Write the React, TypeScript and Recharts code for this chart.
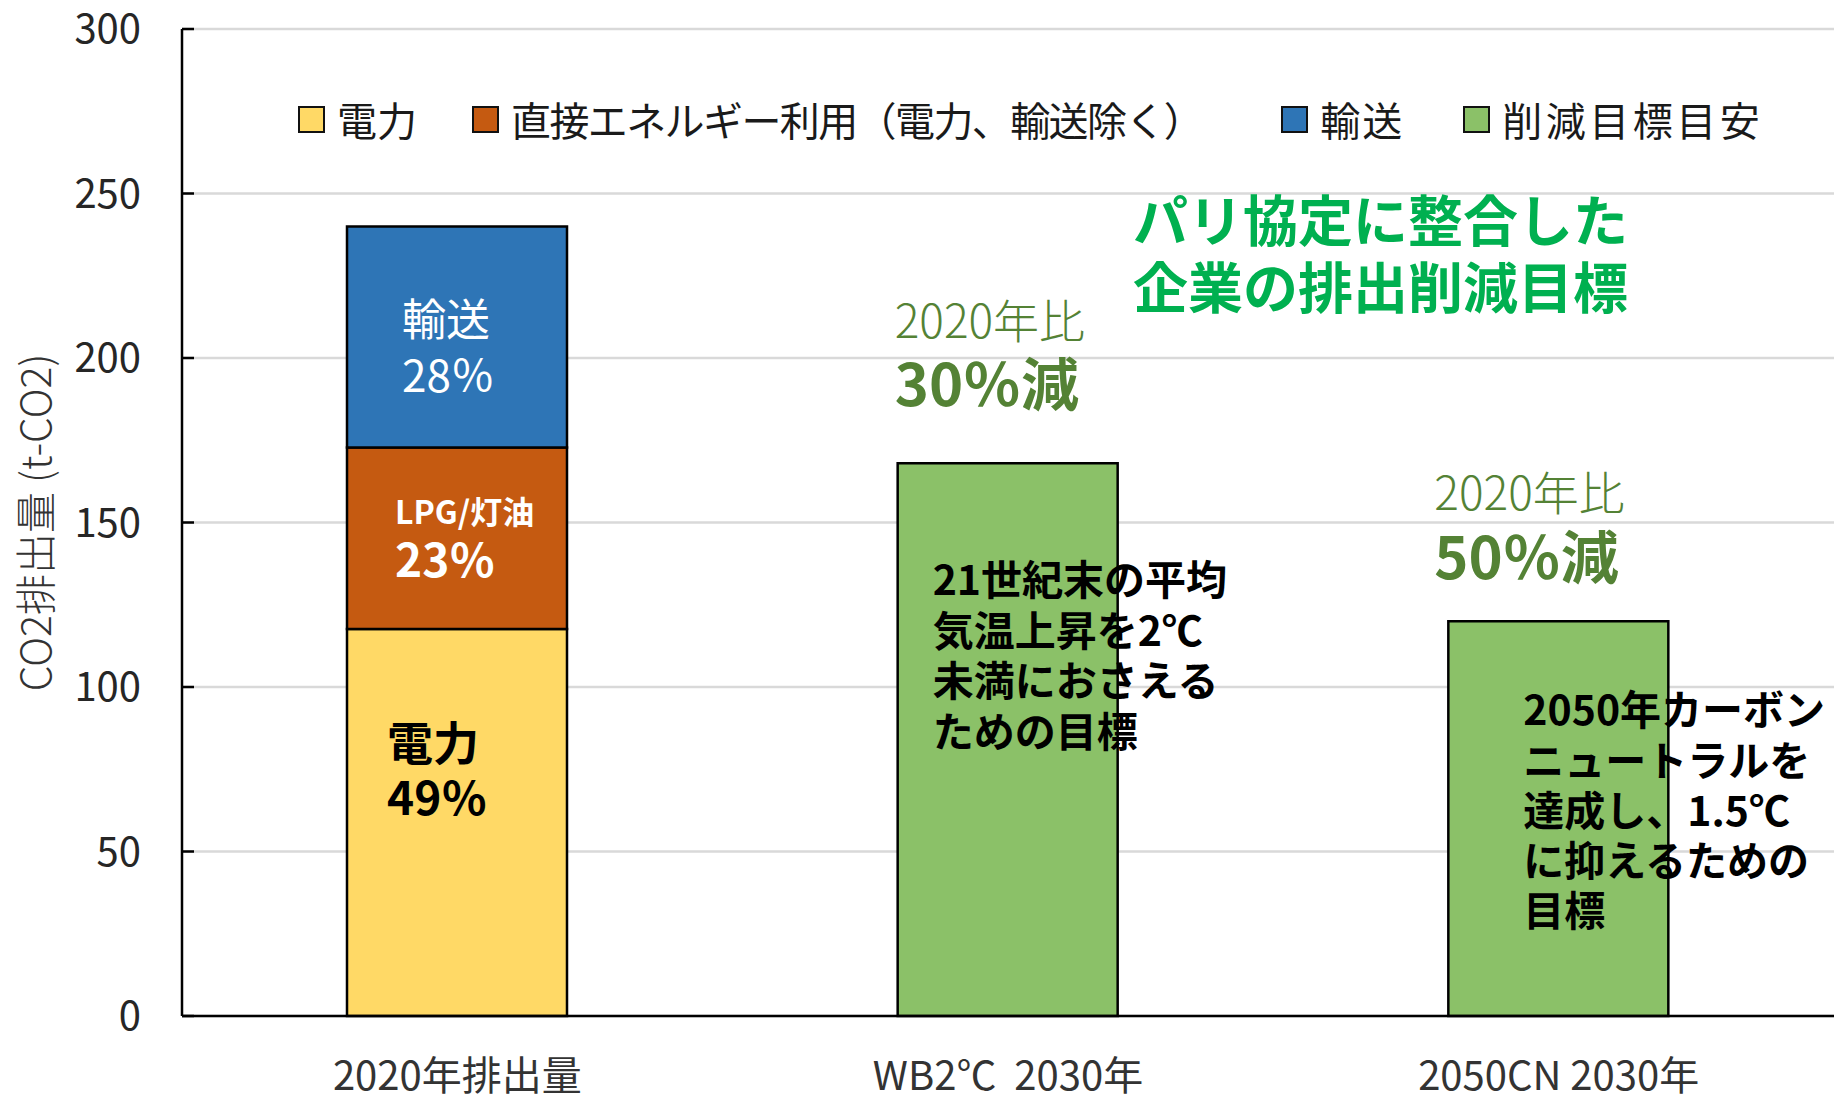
import {
  Bar,
  BarChart,
  CartesianGrid,
  Customized,
  LabelList,
  Legend,
  XAxis,
  YAxis,
} from "recharts";

const FONT = "'Noto Sans CJK JP', 'Noto Sans', sans-serif";

const categories = ["2020年排出量", "WB2℃  2030年", "2050CN 2030年"];

// t-CO2
const electricity = [117.6, null, null];
const directEnergy = [55.2, null, null];
const transport = [67.2, null, null];
const target = [null, 168, 120];

const yTicks = [0, 50, 100, 150, 200, 250, 300];

const seriesNames = ["電力", "直接エネルギー利用（電力、輸送除く）", "輸送", "削減目標目安"];
const seriesColors = ["#FFD966", "#C55A11", "#2E75B6", "#8BC168"];

const titleLines = ["パリ協定に整合した", "企業の排出削減目標"];
const ratioText = ["", "2020年比", "2020年比"];
const cutText = ["", "30％減", "50％減"];
const targetNotes = [
  [],
  ["21世紀末の平均", "気温上昇を2℃", "未満におさえる", "ための目標"],
  ["2050年カーボン", "ニュートラルを", "達成し、1.5℃", "に抑えるための", "目標"],
];

const data = categories.map((name, i) => ({
  name,
  electricity: electricity[i],
  directEnergy: directEnergy[i],
  transport: transport[i],
  target: target[i],
}));

type Line = { t: string; dy: number; size: number; weight: number };

function segmentLabel(lines: Line[], dx: number, fill: string) {
  return (props: any) => {
    const { x, y, height } = props;
    if (!height) return null;
    return (
      <g>
        {lines.map((l) => (
          <text
            key={l.t}
            x={x + dx}
            y={y + l.dy}
            fill={fill}
            fontSize={l.size}
            fontWeight={l.weight}
            fontFamily={FONT}
            dominantBaseline="central"
          >
            {l.t}
          </text>
        ))}
      </g>
    );
  };
}

// per-bar offsets of the notes around the target bars
const noteLayout = [
  null,
  { headDx: -3, ratioDy: -145, cutDy: -82, bodyDx: 35, bodyDy: 114, step: 50.5 },
  { headDx: -14, ratioDy: -131, cutDy: -67, bodyDx: 75, bodyDy: 86, step: 50.3 },
];

function TargetNote(props: any) {
  const { x, y, height, value } = props;
  const v = Array.isArray(value) ? value[1] - value[0] : value;
  const index = target.indexOf(v);
  const lay = noteLayout[index];
  if (!lay || !height) return null;
  return (
    <g fontFamily={FONT}>
      <text x={x + lay.headDx} y={y + lay.ratioDy} fill="#548235" fontSize={46} fontWeight={300} dominantBaseline="central">
        {ratioText[index]}
      </text>
      <text x={x + lay.headDx} y={y + lay.cutDy} fill="#548235" fontSize={58} fontWeight={700} dominantBaseline="central">
        {cutText[index]}
      </text>
      {targetNotes[index].map((t, k) => (
        <text
          key={t}
          x={x + lay.bodyDx}
          y={y + lay.bodyDy + k * lay.step}
          fill="#000"
          fontSize={41}
          fontWeight={700}
          dominantBaseline="central"
        >
          {t}
        </text>
      ))}
    </g>
  );
}

function Title() {
  return (
    <g fontFamily={FONT}>
      {titleLines.map((t, k) => (
        <text key={t} x={1133} y={217 + k * 67} fill="#00B050" fontSize={55} fontWeight={700} dominantBaseline="central">
          {t}
        </text>
      ))}
    </g>
  );
}

const legendGaps = [0, 55, 79, 59];
const legendSpacing = [0, -1.6, 2, 3.5];

function LegendRow() {
  return (
    <div style={{ display: "flex", alignItems: "center", fontFamily: FONT, fontSize: 40, lineHeight: "48px", color: "#1a1a1a", whiteSpace: "nowrap" }}>
      {seriesNames.map((name, i) => (
        <div key={name} style={{ display: "flex", alignItems: "center", marginLeft: legendGaps[i] }}>
          <span
            style={{
              display: "inline-block",
              width: 23,
              height: 23,
              background: seriesColors[i],
              border: "2.5px solid #111",
              marginRight: 12,
            }}
          />
          <span style={{ letterSpacing: legendSpacing[i] }}>{name}</span>
        </div>
      ))}
    </div>
  );
}

function AxisTitle(props: any) {
  const { viewBox } = props;
  const cx = 33;
  const cy = viewBox.y + viewBox.height / 2;
  return (
    <text
      x={cx}
      y={cy}
      transform={`rotate(-90 ${cx} ${cy})`}
      textAnchor="middle"
      dominantBaseline="central"
      fill="#333"
      fontSize={41}
      fontWeight={300}
      fontFamily={FONT}
    >
      CO2排出量 (t-CO2)
    </text>
  );
}

export default function App() {
  return (
    <div style={{ position: "absolute", left: 0, top: 0, background: "#fff" }}>
      <BarChart width={1837} height={1098} data={data} margin={{ top: 29, right: 3, bottom: 0, left: 0 }} barSize={220}>
        <CartesianGrid vertical={false} stroke="#D9D9D9" strokeWidth={2.5} />
        <XAxis
          dataKey="name"
          height={82}
          interval={0}
          tickLine={false}
          tickSize={0}
          tickMargin={46}
          axisLine={{ stroke: "#000", strokeWidth: 2.5 }}
          tick={{ fill: "#333", fontSize: 40, fontFamily: FONT }}
          tickFormatter={(v: string) => v.replace(/ /g, "\u00a0")}
        />
        <YAxis
          domain={[0, 300]}
          ticks={yTicks}
          interval={0}
          width={182}
          tickSize={-12}
          tickMargin={53}
          axisLine={{ stroke: "#000", strokeWidth: 2.5 }}
          tickLine={{ stroke: "#000", strokeWidth: 2.5 }}
          tick={{ fill: "#262626", fontSize: 40, fontFamily: FONT }}
          label={<AxisTitle />}
        />
        <Legend
          verticalAlign="middle"
          align="center"
          content={<LegendRow />}
          wrapperStyle={{ top: 95, left: 298, width: "auto", height: 48 }}
        />
        <Bar dataKey="electricity" name={seriesNames[0]} stackId="a" fill={seriesColors[0]} stroke="#000" strokeWidth={2.5} isAnimationActive={false}>
          <LabelList
            dataKey="electricity"
            content={segmentLabel(
              [
                { t: "電力", dy: 111, size: 46, weight: 700 },
                { t: "49％", dy: 166, size: 46, weight: 700 },
              ],
              40,
              "#000"
            )}
          />
        </Bar>
        <Bar dataKey="directEnergy" name={seriesNames[1]} stackId="a" fill={seriesColors[1]} stroke="#000" strokeWidth={2.5} isAnimationActive={false}>
          <LabelList
            dataKey="directEnergy"
            content={segmentLabel(
              [
                { t: "LPG/灯油", dy: 63, size: 32, weight: 700 },
                { t: "23％", dy: 110, size: 46, weight: 700 },
              ],
              48,
              "#fff"
            )}
          />
        </Bar>
        <Bar dataKey="transport" name={seriesNames[2]} stackId="a" fill={seriesColors[2]} stroke="#000" strokeWidth={2.5} isAnimationActive={false}>
          <LabelList
            dataKey="transport"
            content={segmentLabel(
              [
                { t: "輸送", dy: 91, size: 44, weight: 400 },
                { t: "28％", dy: 147, size: 44, weight: 400 },
              ],
              55,
              "#fff"
            )}
          />
        </Bar>
        <Bar dataKey="target" name={seriesNames[3]} stackId="a" fill={seriesColors[3]} stroke="#000" strokeWidth={2.5} isAnimationActive={false}>
          <LabelList dataKey="target" content={TargetNote} />
        </Bar>
        <Customized component={Title} />
      </BarChart>
    </div>
  );
}
